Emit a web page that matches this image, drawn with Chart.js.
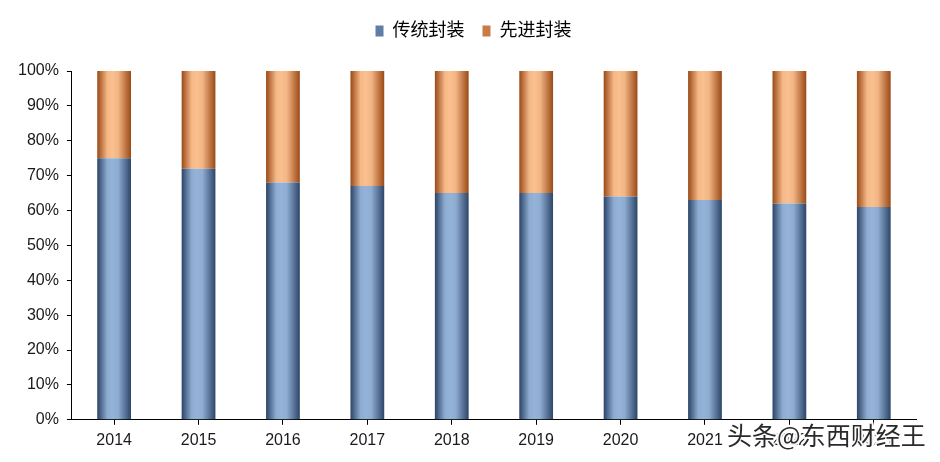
<!DOCTYPE html>
<html>
<head>
<meta charset="utf-8">
<script src="https://cdn.jsdelivr.net/npm/chart.js@4.4.1/dist/chart.umd.min.js"></script>
<style>
html,body{margin:0;padding:0;background:#fff;}
#wrap{width:940px;height:462px;position:relative;}
</style>
</head>
<body>
<div id="wrap"><canvas id="c" width="940" height="462"></canvas></div>
<script>
const categories = ['2014','2015','2016','2017','2018','2019','2020','2021','2022','2023'];
const traditional = [75, 72, 68, 67, 65, 65, 64, 63, 62, 61];
const advanced = [25, 28, 32, 33, 35, 35, 36, 37, 38, 39];
const seriesNames = ['传统封装', '先进封装'];
const watermarkText = '头条@东西财经王';

const FONT = '"Liberation Sans", Arial, "Noto Sans CJK SC", sans-serif';
const BAR_FRACTION = 0.4;

function barGradient(ctx, stops) {
  const chart = ctx.chart;
  const x = chart.scales && chart.scales.x;
  if (!x || ctx.dataIndex === undefined || !chart.chartArea) return stops[2][1];
  const cx = x.getPixelForValue(ctx.dataIndex);
  const w = (chart.chartArea.width / categories.length) * BAR_FRACTION;
  const g = chart.ctx.createLinearGradient(cx - w / 2, 0, cx + w / 2, 0);
  stops.forEach(s => g.addColorStop(s[0], s[1]));
  return g;
}
const blueStops = [[0,'#2b4467'],[0.3,'#8eacd2'],[0.45,'#95b3d8'],[0.62,'#8eabd0'],[1,'#2c4669']];
const orangeStops = [[0,'#9a4a16'],[0.3,'#f5b887'],[0.45,'#fbc08f'],[0.62,'#f2b585'],[1,'#9a4a16']];

const legendMargin = {
  id: 'legendMargin',
  beforeInit(chart) {
    const fit = chart.legend.fit;
    chart.legend.fit = function () { fit.bind(chart.legend)(); this.height += 21; };
  },
  afterLayout(chart) {
    chart.legend.left += 21;
  }
};

const watermark = {
  id: 'watermark',
  afterDraw(chart) {
    const c = chart.ctx;
    c.save();
    c.font = '25px "Noto Sans CJK SC", sans-serif';
    c.textBaseline = 'middle';
    c.textAlign = 'left';
    c.lineJoin = 'round';
    c.strokeStyle = 'rgba(255,255,255,0.95)';
    c.lineWidth = 4;
    c.strokeText(watermarkText, 727, 435);
    c.fillStyle = '#2a2a2a';
    c.fillText(watermarkText, 727, 435);
    c.restore();
  }
};

new Chart(document.getElementById('c'), {
  type: 'bar',
  data: {
    labels: categories,
    datasets: [
      { label: seriesNames[0], data: traditional,
        backgroundColor: ctx => barGradient(ctx, blueStops), borderWidth: 0 },
      { label: seriesNames[1], data: advanced,
        backgroundColor: ctx => barGradient(ctx, orangeStops), borderWidth: 0 }
    ]
  },
  options: {
    responsive: false,
    animation: false,
    devicePixelRatio: 1,
    layout: { padding: { left: 10, right: 24, top: 4, bottom: 6 } },
    datasets: { bar: { categoryPercentage: 1.0, barPercentage: BAR_FRACTION } },
    plugins: {
      tooltip: { enabled: false },
      legend: {
        position: 'top',
        labels: {
          font: { family: FONT, size: 18 },
          color: '#1a1a1a',
          boxWidth: 8,
          boxHeight: 11,
          padding: 18,
          generateLabels: () => [
            { text: seriesNames[0], fillStyle: '#5f7ea6', strokeStyle: '#5f7ea6', lineWidth: 0, datasetIndex: 0 },
            { text: seriesNames[1], fillStyle: '#c97a45', strokeStyle: '#c97a45', lineWidth: 0, datasetIndex: 1 }
          ]
        }
      }
    },
    scales: {
      x: {
        stacked: true,
        grid: { display: true, drawOnChartArea: false, drawTicks: true, tickLength: 5, color: '#000', offset: false },
        border: { display: true, color: '#000', width: 1 },
        ticks: { font: { family: FONT, size: 16 }, color: '#1a1a1a', padding: 6, maxRotation: 0 }
      },
      y: {
        stacked: true,
        min: 0, max: 100,
        grid: { display: true, drawOnChartArea: false, drawTicks: true, tickLength: 5, color: '#000' },
        border: { display: true, color: '#000', width: 1 },
        ticks: { stepSize: 10, font: { family: FONT, size: 16 }, color: '#1a1a1a', padding: 8,
                 callback: v => v + '%' }
      }
    }
  },
  plugins: [legendMargin, watermark]
});
</script>
</body>
</html>
